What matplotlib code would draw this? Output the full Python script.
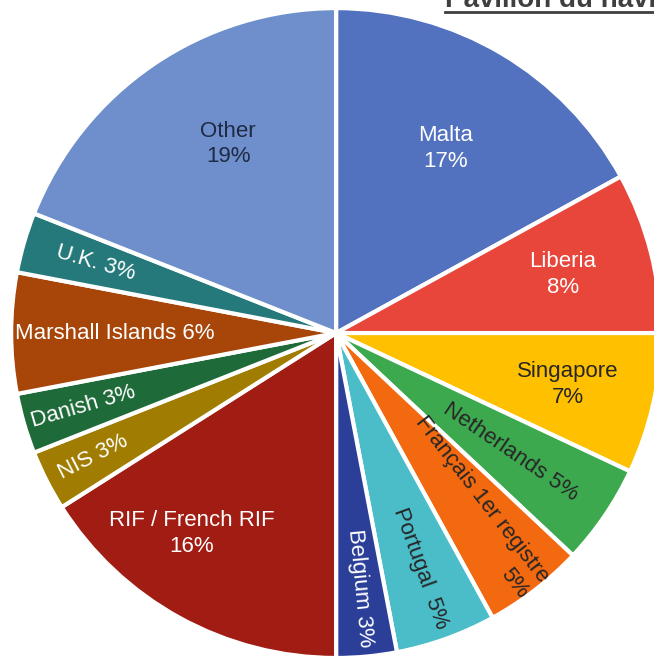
import numpy as np
import matplotlib.pyplot as plt

plt.rcParams['font.family'] = ['Liberation Sans', 'DejaVu Sans']

flags = ['Malta', 'Liberia', 'Singapore', 'Netherlands', 'Français 1er registre',
         'Portugal', 'Belgium', 'RIF / French RIF', 'NIS', 'Danish',
         'Marshall Islands', 'U.K.', 'Other']
shares = [17, 8, 7, 5, 5, 5, 3, 16, 3, 3, 6, 3, 19]

colors = ['#5271BF', '#E8453B', '#FFC000', '#3DA94F', '#F2690F', '#4BBDC9', '#2B3F99',
          '#A11C13', '#A07C00', '#1E6B39', '#A8460A', '#26797A', '#6E8FCB']
# label text, colour, radius fraction, angle tweak, rotated along the radius or not
texts = ['Malta\n17%', 'Liberia\n8%', 'Singapore\n7%', 'Netherlands 5%',
         'Français 1er registre\n5%', 'Portugal  5%', 'Belgium 3%',
         'RIF / French RIF\n16%', 'NIS 3%', 'Danish 3%', 'Marshall Islands 6%',
         'U.K. 3%', 'Other\n19%']
tcol = ['white', 'white', '#262626', '#262626', '#262626', '#262626', 'white',
        'white', 'white', 'white', 'white', 'white', '#1F2A44']
rfrac = [0.66, 0.72, 0.73, 0.65, 0.68, 0.77, 0.79, 0.76, 0.84, 0.81, 0.68, 0.77, 0.67]
dang = [0, 0, 0, 0, 0, 0, 0, -7, 0, 0, 0, 0, -4.5]
rotated = [False, False, False, True, True, True, True, False, True, True, False, True, False]
malign = ['center'] * 4 + ['right'] + ['center'] * 8

fig = plt.figure(figsize=(6.54, 6.57), dpi=100)
ax = fig.add_axes([0, 0, 1, 1])
wedges, _ = ax.pie(shares, colors=colors, startangle=90, counterclock=False,
                   wedgeprops=dict(edgecolor='white', linewidth=3))
ax.set_xlim(-1.034, 0.978)
ax.set_ylim(-0.997, 1.025)
ax.set_aspect('equal')
ax.axis('off')

for w, t, c, rf, da, rot, ma in zip(wedges, texts, tcol, rfrac, dang, rotated, malign):
    ang = np.deg2rad((w.theta1 + w.theta2) / 2 + da)
    x, y = rf * np.cos(ang), rf * np.sin(ang)
    r = 0
    if rot:
        r = np.rad2deg(ang)
        if r > 90:
            r -= 180
        if r < -90:
            r += 180
    ax.text(x, y, t, color=c, ha='center', va='center', rotation=r,
            rotation_mode='anchor', multialignment=ma,
            fontsize=16, linespacing=1.3)

fig.text(445 / 654, 1 - 7 / 657, 'Pavillon du navire', fontsize=20, fontweight='bold',
         color='#3F3F3F', ha='left', va='baseline')
fig.add_artist(plt.Line2D([445 / 654, 1], [1 - 12 / 657, 1 - 12 / 657], color='#3F3F3F', lw=2))

fig.savefig('out.png', dpi=100)
